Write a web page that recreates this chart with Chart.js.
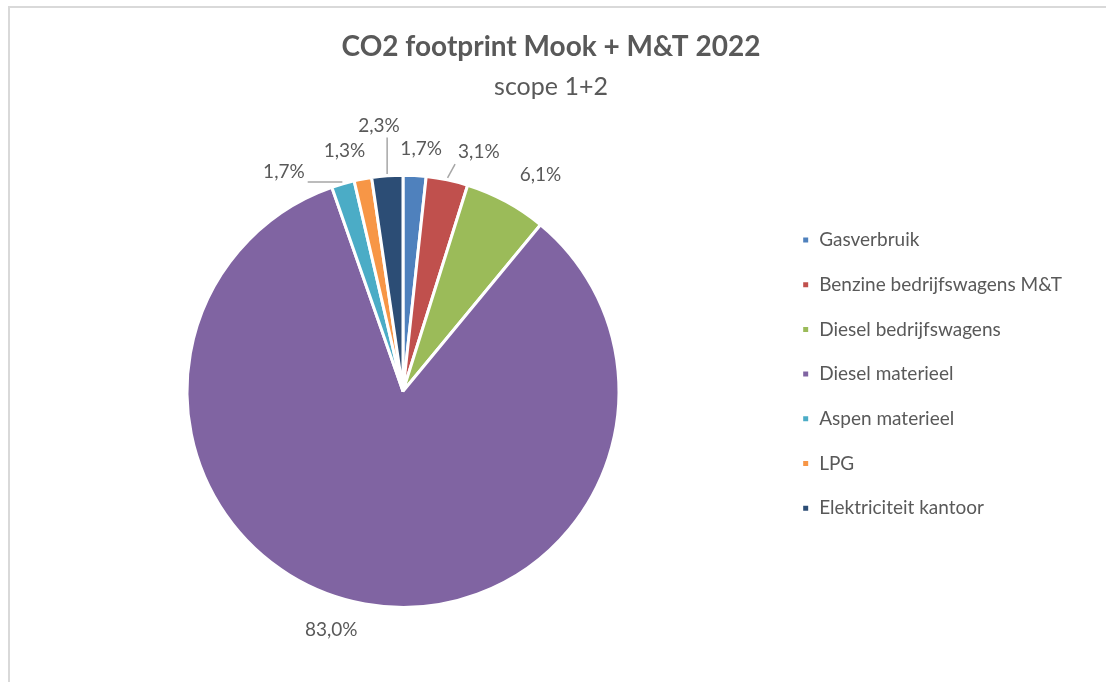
<!DOCTYPE html>
<html>
<head>
<meta charset="utf-8">
<script src="https://cdn.jsdelivr.net/npm/chart.js@4/dist/chart.umd.min.js"></script>
<style>
    body { margin: 0; background: #fff; }
    #wrap { width: 1106px; height: 682px; }
</style>
</head>
<body>
<div id="wrap"><canvas id="ChartCO2" width="1106" height="682"></canvas></div>
<script>
let categorieen = ['Gasverbruik', 'Benzine bedrijfswagens M&T', 'Diesel bedrijfswagens', 'Diesel materieel', 'Aspen materieel', 'LPG', 'Elektriciteit kantoor']
let percentages = [1.7, 3.1, 6.1, 83.0, 1.7, 1.3, 2.3]
let kleuren = ['#4F81BD', '#C0504D', '#9BBB59', '#8064A2', '#4BACC6', '#F79646', '#2C4D75']

let tekstKleur = '#595959'
let lettertype = 'Lato, "Open Sans", sans-serif'

// label layout: extra angle (deg) and distance beyond the pie edge, leader line yes/no
let labelAfwijking = [[1.2, 27, false], [5.8, 35, true], [4, 40, false], [6.6, 33, false], [-12.3, 34, true], [-3, 31, false], [-1, 51, true]]

const kaderPlugin = {
    id: 'kader',
    beforeDraw(chart) {
        const ctx = chart.ctx
        ctx.save()
        ctx.fillStyle = '#d9d9d9'
        ctx.fillRect(8, 6, chart.width - 8, 2)
        ctx.fillRect(8, 6, 2, chart.height - 6)
        ctx.restore()
    }
}

const labelPlugin = {
    id: 'percentLabels',
    afterDatasetsDraw(chart) {
        const ctx = chart.ctx
        const meta = chart.getDatasetMeta(0)
        ctx.save()
        ctx.font = '19px ' + lettertype
        ctx.textAlign = 'center'
        ctx.textBaseline = 'middle'
        meta.data.forEach(function (arc, i) {
            const p = arc.getProps(['x', 'y', 'startAngle', 'endAngle', 'outerRadius'], true)
            const mid = (p.startAngle + p.endAngle) / 2
            const a = mid + labelAfwijking[i][0] * Math.PI / 180
            const d = p.outerRadius + labelAfwijking[i][1]
            const lx = p.x + Math.cos(a) * d
            const ly = p.y + Math.sin(a) * d
            const tekst = percentages[i].toFixed(1).replace('.', ',') + '%'
            const w = ctx.measureText(tekst).width
            if (labelAfwijking[i][2]) {
                const sx = p.x + Math.cos(mid) * (p.outerRadius + 2)
                const sy = p.y + Math.sin(mid) * (p.outerRadius + 2)
                const ex = Math.min(Math.max(sx, lx - w / 2 - 3), lx + w / 2 + 3)
                const ey = Math.min(Math.max(sy, ly - 12), ly + 12)
                ctx.strokeStyle = '#a6a6a6'
                ctx.lineWidth = 1.5
                ctx.beginPath()
                ctx.moveTo(sx, sy)
                ctx.lineTo(ex, ey)
                ctx.stroke()
            }
            ctx.fillStyle = tekstKleur
            ctx.fillText(tekst, lx, ly)
        })
        ctx.restore()
    }
}

const data = {
    labels: categorieen,
    datasets: [{
        data: percentages,
        backgroundColor: kleuren,
        borderColor: '#ffffff',
        borderWidth: 3,
        radius: 216
    }]
}

const config = {
    type: 'pie',
    data: data,
    options: {
        responsive: false,
        animation: false,
        layout: { padding: { left: 30, right: 34, top: 0, bottom: 10 } },
        plugins: {
            title: {
                display: true,
                text: 'CO2 footprint Mook + M&T 2022',
                color: tekstKleur,
                font: { family: lettertype, size: 28, weight: 'bold', lineHeight: 1.2 },
                padding: { top: 30, bottom: 2 }
            },
            subtitle: {
                display: true,
                text: 'scope 1+2',
                color: tekstKleur,
                font: { family: lettertype, size: 25, weight: 'normal', lineHeight: 1.2 },
                padding: { top: 6, bottom: 9 }
            },
            legend: {
                position: 'right',
                align: 'start',
                title: { display: true, text: '', padding: { top: 190.4, bottom: 0 } },
                labels: {
                    boxWidth: 8,
                    boxHeight: 8,
                    padding: 25.7,
                    color: tekstKleur,
                    font: { family: lettertype, size: 19 }
                }
            },
            tooltip: { enabled: false }
        }
    },
    plugins: [kaderPlugin, labelPlugin]
}

let myChart = new Chart(document.getElementById('ChartCO2'), config)
</script>
</body>
</html>
